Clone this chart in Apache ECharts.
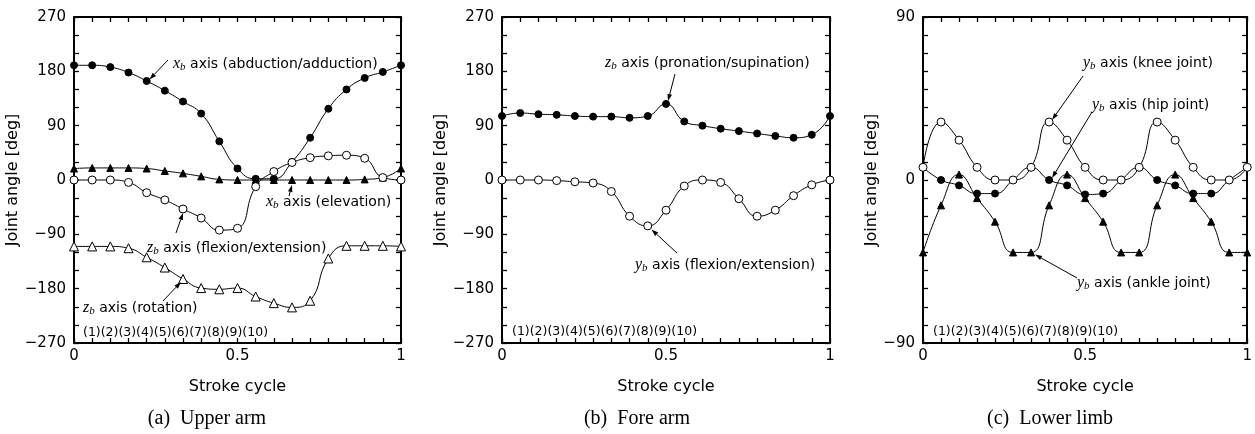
<!DOCTYPE html>
<html><head><meta charset="utf-8">
<script src="https://cdn.jsdelivr.net/npm/echarts@6/dist/echarts.min.js"></script>
<style>html,body{margin:0;padding:0;background:#fff}#c{width:1255px;height:434px}</style>
</head><body><div id="c"></div>
<script>
// ---------- data ----------
const strokeCycle = [0, 0.0556, 0.1111, 0.1667, 0.2222, 0.2778, 0.3333, 0.3889, 0.4444, 0.5, 0.5556, 0.6111, 0.6667, 0.7222, 0.7778, 0.8333, 0.8889, 0.9444, 1];
const xTickLabels = {0: '0', 0.5: '0.5', 1: '1'};
const yTickLabelsArm = ['\u2212270', '\u2212180', '\u221290', '0', '90', '180', '270'];
const yTickLabelsLimb = ['\u221290', '0', '90'];
const phaseLabels = '(1)(2)(3)(4)(5)(6)(7)(8)(9)(10)';

// (a) Upper arm
const upperAbduction = [190, 190, 187, 178, 164, 148, 130, 110, 64, 19, 2, 2, 30, 70, 118, 150, 169, 179, 190];
const upperElevation = [19, 20, 20, 20, 19, 15, 11, 6, 1, 0, 0, 0, 0, 0, 0, 0, 1, 4, 19];
const upperFlexion   = [0, 0, 0, -4, -21, -33, -48, -63, -83, -80, -11, 14, 29, 37, 40, 41, 36, 4, 0];
const upperRotation  = [-110, -110, -110, -113, -128, -145, -164, -179, -181, -179, -193, -204, -211, -200, -130, -109, -109, -109, -110];
// (b) Fore arm
const foreProSup   = [106, 111, 109, 108, 106, 105, 105, 103, 106, 126, 97, 90, 85, 81, 77, 73, 70, 75, 106];
const foreFlexion  = [0, 0, 0, -1, -3, -5, -19, -60, -76, -50, -10, 0, -4, -31, -60, -50, -26, -8, 0];
// (c) Lower limb
const kneeJoint  = [7, 32, 22, 7, 0, 0, 7, 32, 22, 7, 0, 0, 7, 32, 22, 7, 0, 0, 7];
const hipJoint   = [7, 0, -3, -7.5, -7.5, 0, 7, 0, -3, -8, -7.5, 0, 7, 0, -3, -7.5, -7.5, 0, 7];
const ankleJoint = [-40, -14, 3, -10, -23, -40, -40, -14, 3, -10, -23, -40, -40, -14, 3, -10, -23, -40, -40];

// ---------- layout ----------
const SANS = 'DejaVu Sans';
const SERIF = 'Liberation Serif';
const grids = [
  {left: 74, top: 17, width: 327, height: 326},
  {left: 502, top: 17, width: 328, height: 326},
  {left: 923, top: 17, width: 327, height: 326}
];
const yRanges = [
  {min: -270, max: 270, minor: 3, labels: yTickLabelsArm, gap: 48},
  {min: -270, max: 270, minor: 3, labels: yTickLabelsArm, gap: 48},
  {min: -90, max: 90, minor: 9, labels: yTickLabelsLimb, gap: 38}
];

const lineAxis = {show: true, onZero: false, lineStyle: {color: '#000', width: 2}};
const tickCfg = {show: true, inside: true, length: 5, lineStyle: {color: '#000', width: 1.3}};
const labelFont = {color: '#000', fontFamily: SANS, fontSize: 15};

const xAxis = [], yAxis = [];
grids.forEach((g, i) => {
  const xb = {
    type: 'value', gridIndex: i, min: 0, max: 1, interval: 0.5,
    axisLine: lineAxis, axisTick: tickCfg,
    minorTick: {show: true, splitNumber: 9, length: 5, lineStyle: {color: '#000', width: 1.3}},
    splitLine: {show: false},
    axisLabel: Object.assign({margin: 6, formatter: v => xTickLabels[Math.round(v * 2) / 2] || ''}, labelFont),
    name: 'Stroke cycle', nameLocation: 'middle', nameGap: 36,
    nameTextStyle: {color: '#000', fontFamily: SANS, fontSize: 16}
  };
  const xt = Object.assign({}, xb, {position: 'top', axisLabel: {show: false}, name: ''});
  xAxis.push(xb, xt);
  const r = yRanges[i];
  const yl = {
    type: 'value', gridIndex: i, min: r.min, max: r.max, interval: 90,
    axisLine: lineAxis, axisTick: tickCfg,
    minorTick: {show: true, splitNumber: r.minor, length: 5, lineStyle: {color: '#000', width: 1.3}},
    splitLine: {show: false},
    axisLabel: Object.assign({margin: 8, formatter: v => r.labels[Math.round((v - r.min) / 90)]}, labelFont),
    name: 'Joint angle [deg]', nameLocation: 'middle', nameGap: r.gap,
    nameTextStyle: {color: '#000', fontFamily: SANS, fontSize: 16}
  };
  const yr = Object.assign({}, yl, {position: 'right', axisLabel: {show: false}, name: ''});
  yAxis.push(yl, yr);
});

function mk(vals, grid, kind) {
  const styles = {
    dot:  {symbol: 'circle', size: 7, fill: '#000'},
    ring: {symbol: 'circle', size: 8, fill: '#fff'},
    tri:  {symbol: 'triangle', size: 7, fill: '#000'},
    otri: {symbol: 'triangle', size: 9, fill: '#fff'}
  };
  const s = styles[kind];
  return {
    type: 'line', xAxisIndex: grid * 2, yAxisIndex: grid * 2,
    data: strokeCycle.map((x, i) => [x, vals[i]]),
    smooth: 0.5, symbol: s.symbol, symbolSize: s.size, showAllSymbol: true,
    lineStyle: {color: '#000', width: 1},
    itemStyle: {color: s.fill, borderColor: '#000', borderWidth: 1},
    emphasis: {disabled: true}, animation: false
  };
}

const series = [
  mk(upperElevation, 0, 'tri'),
  mk(upperAbduction, 0, 'dot'),
  mk(upperFlexion, 0, 'ring'),
  mk(upperRotation, 0, 'otri'),
  mk(foreProSup, 1, 'dot'),
  mk(foreFlexion, 1, 'ring'),
  mk(hipJoint, 2, 'dot'),
  mk(ankleJoint, 2, 'tri'),
  mk(kneeJoint, 2, 'ring')
];

// ---------- annotations ----------
const rich = {
  v: {fontFamily: SERIF, fontStyle: 'italic', fontSize: 16, lineHeight: 18, verticalAlign: 'middle', fill: '#000'},
  s: {fontFamily: SERIF, fontStyle: 'italic', fontSize: 11, lineHeight: 11, verticalAlign: 'bottom', fill: '#000'},
  t: {fontFamily: SANS, fontSize: 14, lineHeight: 18, verticalAlign: 'middle', fill: '#000'}
};
function note(x, y, v, rest) {
  return {type: 'text', x: x, y: y, z: 50, style: {
    text: '{v|' + v + '}{s|b}{t| axis (' + rest + ')}', rich: rich,
    align: 'left', verticalAlign: 'middle'}};
}
function arrow(x1, y1, x2, y2) {
  const dx = x2 - x1, dy = y2 - y1, L = Math.hypot(dx, dy);
  const ux = dx / L, uy = dy / L, hl = 7, hw = 2.3;
  const bx = x2 - ux * hl, by = y2 - uy * hl;
  return [
    {type: 'line', z: 50, shape: {x1: x1, y1: y1, x2: bx, y2: by}, style: {stroke: '#000', lineWidth: 1}},
    {type: 'polygon', z: 50, shape: {points: [[x2, y2], [bx - uy * hw, by + ux * hw], [bx + uy * hw, by - ux * hw]]}, style: {fill: '#000'}}
  ];
}
function plain(x, y, text, font, size, align) {
  return {type: 'text', x: x, y: y, z: 50, style: {text: text, fontFamily: font, fontSize: size, fill: '#000', align: align || 'left', verticalAlign: 'middle'}};
}

const graphic = [].concat(
  note(173, 64, 'x', 'abduction/adduction'), arrow(168, 60, 149.5, 79.5),
  note(266, 202, 'x', 'elevation'), arrow(289, 196, 292, 185),
  note(147, 248, 'z', 'flexion/extension'), arrow(176, 233, 183, 213),
  note(83, 308, 'z', 'rotation'), arrow(163, 301, 181, 282),
  note(605, 63, 'z', 'pronation/supination'), arrow(675, 74, 668, 101),
  note(635, 265, 'y', 'flexion/extension'), arrow(677, 253, 651.5, 229.5),
  note(1083, 63, 'y', 'knee joint'), arrow(1083, 76, 1052, 120),
  note(1092, 105, 'y', 'hip joint'), arrow(1092, 112, 1052, 178),
  note(1077, 283, 'y', 'ankle joint'), arrow(1077, 278, 1035, 254.5),
  plain(83, 333, phaseLabels, SANS, 12.5),
  plain(512, 332, phaseLabels, SANS, 12.5),
  plain(933, 332, phaseLabels, SANS, 12.5),
  plain(207, 419, '(a)  Upper arm', SERIF, 20, 'center'),
  plain(637, 419, '(b)  Fore arm', SERIF, 20, 'center'),
  plain(1050, 419, '(c)  Lower limb', SERIF, 20, 'center')
);

const chart = echarts.init(document.getElementById('c'), null, {renderer: 'canvas'});
chart.setOption({
  backgroundColor: '#fff', animation: false,
  grid: grids, xAxis: xAxis, yAxis: yAxis, series: series, graphic: graphic
});
</script></body></html>
